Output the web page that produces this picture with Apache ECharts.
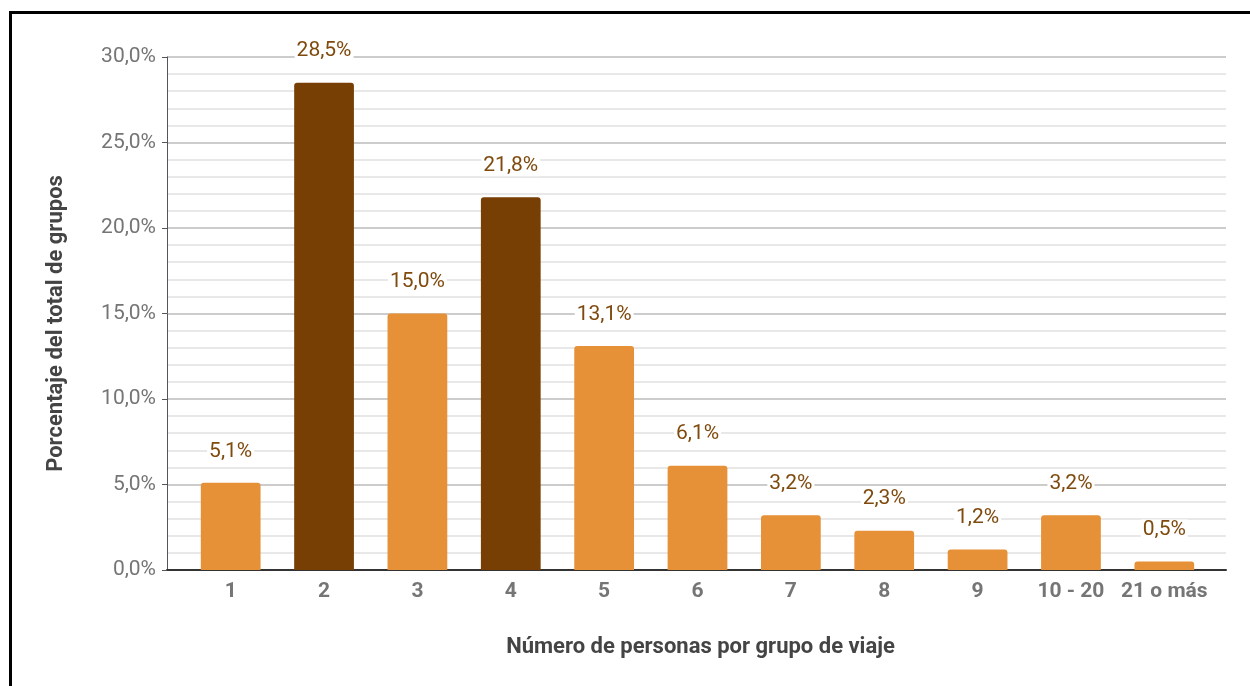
<!DOCTYPE html>
<html>
<head>
<meta charset="utf-8">
<script src="https://cdn.jsdelivr.net/npm/echarts@6/dist/echarts.min.js"></script>
<style>
    html, body { margin: 0; padding: 0; background: #fff; }
    .frame {
        position: absolute;
        left: 9px;
        top: 11px;
        width: 1300px;
        height: 700px;
        border-top: 3px solid #000;
        border-left: 3px solid #000;
    }
    .echarts { position: absolute; left: 0; top: 0; width: 1250px; height: 686px; }
</style>
</head>
<body>
<div class="frame"></div>
<div id="chart" class="echarts"></div>
<script>
const categories = ['1', '2', '3', '4', '5', '6', '7', '8', '9', '10 - 20', '21 o más']
const values = [5.1, 28.5, 15.0, 21.8, 13.1, 6.1, 3.2, 2.3, 1.2, 3.2, 0.5]
const highlighted = ['2', '4']

const lightColor = '#e69138'
const darkColor = '#783f04'

const mychart = echarts.init(document.getElementById('chart'))

const fmt = v => v.toFixed(1).replace('.', ',') + '%'

const options = {
    animation: false,
    textStyle: { fontFamily: 'Roboto' },
    grid: [
        // full width grid: gridlines, y labels, baseline
        { left: 167, right: 24, top: 57, bottom: 116 },
        // inner grid: the bars sit a bit inside the gridlines
        { left: 184, right: 39, top: 57, bottom: 116 }
    ],
    xAxis: [
        {
            gridIndex: 0,
            type: 'value',
            min: 0,
            max: 1,
            axisTick: { show: false },
            axisLabel: { show: false },
            splitLine: { show: false },
            axisLine: { show: true, lineStyle: { color: '#333', width: 2 } },
            name: 'Número de personas por grupo de viaje',
            nameLocation: 'middle',
            nameGap: 66,
            nameTextStyle: {
                color: '#444',
                fontSize: 22,
                fontWeight: 'bold',
                padding: [0, 0, 0, 8]
            }
        },
        {
            gridIndex: 1,
            type: 'category',
            data: categories,
            axisTick: { show: false },
            axisLine: { show: false },
            axisLabel: {
                color: '#757575',
                fontSize: 21,
                fontWeight: 'bold',
                margin: 11,
                interval: 0
            }
        }
    ],
    yAxis: [
        {
            gridIndex: 0,
            type: 'value',
            min: 0,
            max: 30,
            interval: 5,
            name: 'Porcentaje del total de grupos',
            nameLocation: 'middle',
            nameGap: 100,
            nameTextStyle: {
                color: '#444',
                fontSize: 22,
                fontWeight: 'bold',
                padding: [0, 20, 0, 0]
            },
            axisLabel: {
                color: '#757575',
                fontSize: 21,
                margin: 11,
                formatter: fmt
            },
            splitLine: { lineStyle: { color: '#cccccc', width: 2 } },
            minorTick: { show: false, splitNumber: 5 },
            minorSplitLine: { show: true, lineStyle: { color: '#e8e8e8', width: 2 } }
        },
        {
            gridIndex: 1,
            type: 'value',
            min: 0,
            max: 30,
            show: false
        }
    ],
    series: [
        {
            type: 'bar',
            xAxisIndex: 1,
            yAxisIndex: 1,
            barWidth: '64%',
            data: values.map((v, i) => ({
                value: v,
                itemStyle: {
                    color: highlighted.includes(categories[i]) ? darkColor : lightColor
                }
            })),
            itemStyle: { borderRadius: [3, 3, 0, 0] },
            label: {
                show: true,
                position: 'top',
                distance: 21,
                color: '#7f4a0e',
                fontSize: 21,
                backgroundColor: '#fff',
                padding: [0, 2],
                formatter: p => fmt(p.value)
            }
        }
    ]
}

mychart.setOption(options)
</script>
</body>
</html>
